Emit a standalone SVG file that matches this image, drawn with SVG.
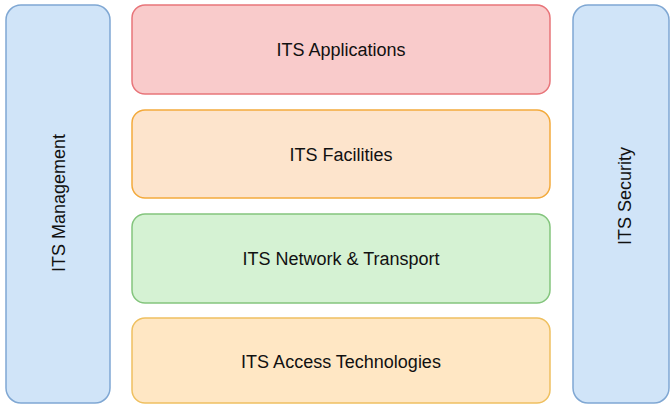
<svg xmlns="http://www.w3.org/2000/svg" width="671" height="405" viewBox="0 0 671 405">
  <style>
    .box { stroke-width: 1.5; }
    .label { font-family: "Liberation Sans", Arial, sans-serif; font-size: 18px; fill: #111111; text-anchor: middle; dominant-baseline: central; }
    .side { fill: #d0e4f8; stroke: #7fa7d3; }
    .app { fill: #f9cbcb; stroke: #e8757a; }
    .fac { fill: #fde4cc; stroke: #f3aa3c; }
    .net { fill: #d5f2d3; stroke: #84c57d; }
    .acc { fill: #ffe7c4; stroke: #efc060; }
  </style>
  <rect width="671" height="405" fill="#ffffff"/>

  <g id="its-management">
    <rect class="box side" x="6" y="5" width="104" height="398" rx="15"/>
    <text class="label" transform="translate(59,203) rotate(-90)">ITS Management</text>
  </g>

  <g id="its-security">
    <rect class="box side" x="573" y="5" width="96" height="398" rx="15"/>
    <text class="label" transform="translate(625,196) rotate(-90)">ITS Security</text>
  </g>

  <g id="its-applications">
    <rect class="box app" x="132" y="5" width="418" height="89" rx="13"/>
    <text class="label" x="341" y="50">ITS Applications</text>
  </g>

  <g id="its-facilities">
    <rect class="box fac" x="132" y="110" width="418" height="88" rx="13"/>
    <text class="label" x="341" y="155">ITS Facilities</text>
  </g>

  <g id="its-network-transport">
    <rect class="box net" x="132" y="214" width="418" height="89" rx="13"/>
    <text class="label" x="341" y="259">ITS Network &amp; Transport</text>
  </g>

  <g id="its-access-technologies">
    <rect class="box acc" x="132" y="318" width="418" height="85" rx="13"/>
    <text class="label" x="341" y="362">ITS Access Technologies</text>
  </g>

  <g id="connectors"/>
</svg>
